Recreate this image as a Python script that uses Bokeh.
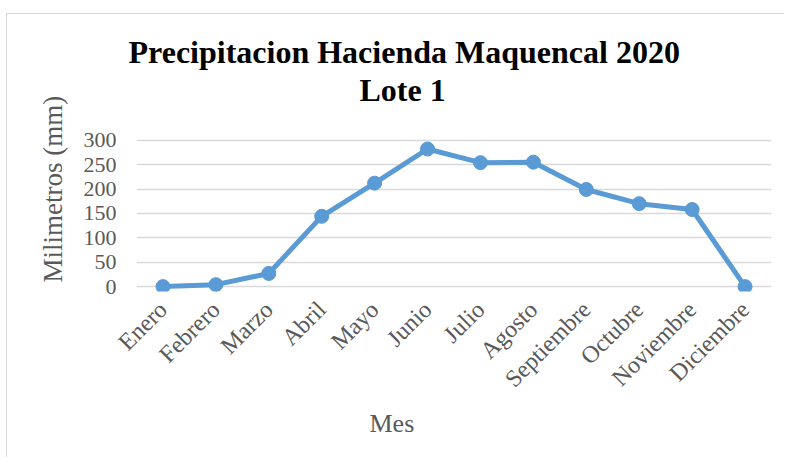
import math
from bokeh.plotting import figure
from bokeh.models import Title, Range1d, FactorRange, FixedTicker, ColumnDataSource
from bokeh.embed import file_html
from bokeh.resources import INLINE

meses = ["Enero", "Febrero", "Marzo", "Abril", "Mayo", "Junio", "Julio",
         "Agosto", "Septiembre", "Octubre", "Noviembre", "Diciembre"]
precipitacion = [0, 4, 27, 144, 212, 282, 254, 255, 199, 170, 158, 0]
y_ticks = [0, 50, 100, 150, 200, 250, 300]

titulo_1 = "Precipitacion Hacienda Maquencal 2020"
titulo_2 = "Lote 1"
eje_y = "Milimetros (mm)"
eje_x = "Mes"

FONT = "Liberation Serif"
GRAY = "#595959"
BLUE = "#5B9BD5"

src = ColumnDataSource(dict(mes=meses, mm=precipitacion))

p = figure(width=778, height=444, output_backend="svg", toolbar_location=None,
           x_range=FactorRange(*meses, range_padding=0),
           y_range=Range1d(-10, 367),
           min_border_left=129, min_border_right=14,
           min_border_top=93, min_border_bottom=167)
p.margin = (13, 0, 0, 6)
p.styles = {"border-top": "1px solid #d9d9d9", "border-left": "1px solid #d9d9d9"}
p.outline_line_color = None
p.background_fill_color = "white"
p.border_fill_color = "white"

p.line("mes", "mm", source=src, line_color=BLUE, line_width=5)
p.scatter("mes", "mm", source=src, size=14, fill_color=BLUE, line_color=BLUE)

p.xgrid.grid_line_color = None
p.ygrid.grid_line_color = "#D9D9D9"
p.ygrid.grid_line_width = 1.5
p.yaxis.ticker = FixedTicker(ticks=y_ticks)

for ax in (p.xaxis[0], p.yaxis[0]):
    ax.axis_line_color = None
    ax.major_tick_line_color = None
    ax.minor_tick_line_color = None
    ax.major_tick_out = 0
    ax.major_tick_in = 0
    ax.major_label_text_font = FONT
    ax.major_label_text_color = GRAY

p.yaxis.major_label_text_font_size = "22px"
p.xaxis.major_label_text_font_size = "24px"
p.yaxis.major_label_standoff = 20
p.xaxis.major_label_orientation = math.pi / 4
p.xaxis.major_label_standoff = 14

# titles: first added sits closest to the frame
p.add_layout(Title(text=titulo_2, align="left", offset=223, standoff=0,
                   text_font=FONT, text_font_size="32px", text_font_style="bold",
                   text_color="black"), "above")
p.add_layout(Title(text=titulo_1, align="left", offset=-8, standoff=0,
                   text_font=FONT, text_font_size="32px", text_font_style="bold",
                   text_color="black"), "above")
p.add_layout(Title(text=eje_y, align="left", offset=9, standoff=26,
                   text_font=FONT, text_font_size="27px", text_font_style="normal",
                   text_color=GRAY), "left")
p.add_layout(Title(text=eje_x, align="left", offset=233, standoff=4,
                   text_font=FONT, text_font_size="26px", text_font_style="normal",
                   text_color=GRAY), "below")

open("out.html", "w").write(file_html(p, INLINE))
